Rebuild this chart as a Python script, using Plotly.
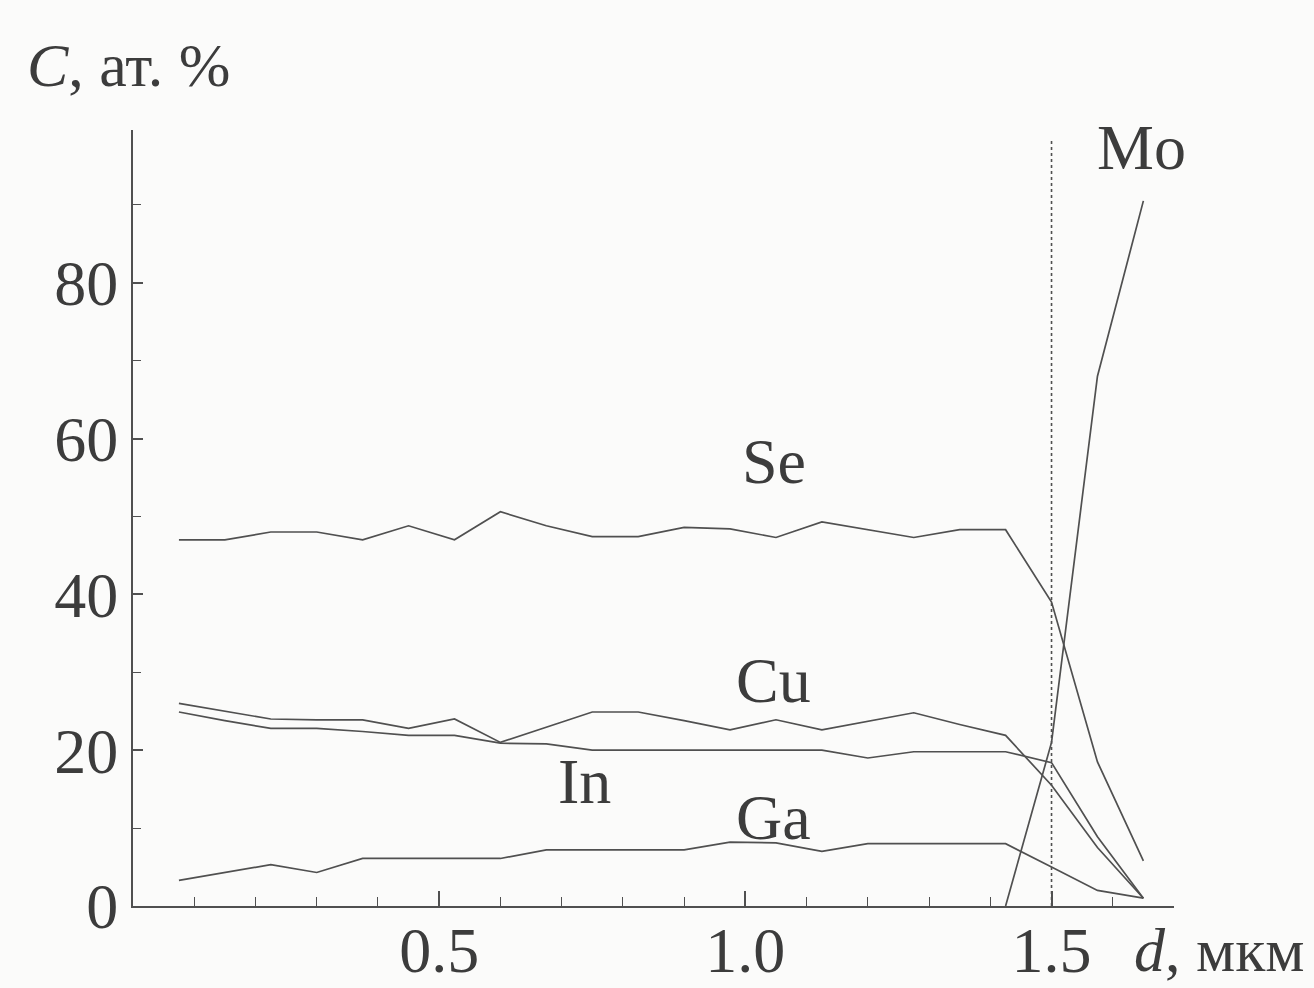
import plotly.graph_objects as go

# depth, um
depth = [0.075, 0.15, 0.225, 0.3, 0.375, 0.45, 0.525, 0.6, 0.675, 0.75, 0.825,
         0.9, 0.975, 1.05, 1.125, 1.2, 1.275, 1.35, 1.425, 1.5, 1.575, 1.65]

se = [47.0, 47.0, 48.0, 48.0, 47.0, 48.8, 47.0, 50.6, 48.8, 47.4, 47.4,
      48.6, 48.4, 47.3, 49.3, 48.3, 47.3, 48.3, 48.3, 39.0, 18.5, 5.8]
cu = [26.0, 25.0, 24.0, 23.9, 23.9, 22.8, 24.0, 21.0, 23.0, 24.9, 24.9,
      23.8, 22.6, 23.9, 22.6, 23.7, 24.8, 23.3, 21.9, 15.5, 7.5, 1.0]
in_ = [24.9, 23.8, 22.8, 22.8, 22.4, 21.9, 21.9, 20.9, 20.8, 20.0, 20.0,
       20.0, 20.0, 20.0, 20.0, 19.0, 19.8, 19.8, 19.8, 18.4, 8.9, 1.0]
ga = [3.3, 4.3, 5.3, 4.3, 6.1, 6.1, 6.1, 6.1, 7.2, 7.2, 7.2,
      7.2, 8.2, 8.1, 7.0, 8.0, 8.0, 8.0, 8.0, 5.0, 2.0, 1.0]

mo_depth = [1.425, 1.5, 1.575, 1.65]
mo = [0.0, 21.0, 68.0, 90.5]

interface_depth = 1.5

x_tickvals = [0.5, 1.0, 1.5]
x_ticktext = ["0.5", "1.0", "1.5"]
y_tickvals = [0, 20, 40, 60, 80]
y_ticktext = ["0", "20", "40", "60", "80"]

series_labels = {
    "Se": (1.046, 57.0),
    "Cu": (1.046, 29.0),
    "In": (0.737, 16.0),
    "Ga": (1.046, 11.3),
    "Mo": (1.647, 97.3),
}

LINE = "#505050"
TEXT = "#3c3c3c"
FONT = "Liberation Serif"
FS = 64

fig = go.Figure()
for name, ys in [("Se", se), ("Cu", cu), ("In", in_), ("Ga", ga)]:
    fig.add_trace(go.Scatter(x=depth, y=ys, mode="lines", name=name,
                             line=dict(color=LINE, width=1.7)))
fig.add_trace(go.Scatter(x=mo_depth, y=mo, mode="lines", name="Mo",
                         line=dict(color=LINE, width=1.7)))

fig.add_shape(type="line", x0=interface_depth, x1=interface_depth, y0=0, y1=98.5,
              xref="x", yref="y", line=dict(color=LINE, width=1.6, dash="dot"))

for name, (lx, ly) in series_labels.items():
    fig.add_annotation(x=lx, y=ly, text=name, showarrow=False,
                       font=dict(family=FONT, size=FS, color=TEXT))

fig.add_annotation(xref="paper", yref="paper", x=-0.104, y=1.084,
                   xanchor="left", yanchor="middle", showarrow=False,
                   text="<i>C</i>, ат. %", font=dict(family=FONT, size=62, color=TEXT))
fig.add_annotation(xref="paper", yref="paper", x=0.960, y=-0.057,
                   xanchor="left", yanchor="middle", showarrow=False,
                   text="<i>d</i>, мкм", font=dict(family=FONT, size=62, color=TEXT))

fig.update_layout(
    width=1314, height=988,
    margin=dict(l=133, r=140, t=130, b=82, autoexpand=False),
    paper_bgcolor="#fbfbfa", plot_bgcolor="#fbfbfa",
    showlegend=False,
    font=dict(family=FONT, size=FS, color=TEXT),
)
fig.update_xaxes(
    range=[0, 1.70], showgrid=False, zeroline=False, automargin=False,
    showline=True, linecolor=LINE, linewidth=2,
    tickmode="array", tickvals=x_tickvals, ticktext=x_ticktext,
    ticks="inside", ticklen=15, tickwidth=1.6, tickcolor=LINE,
    ticklabelstandoff=-13,
    minor=dict(tickmode="linear", tick0=0, dtick=0.1, ticks="inside",
               ticklen=9, tickwidth=1.4, tickcolor=LINE),
    tickfont=dict(family=FONT, size=FS, color=TEXT),
)
fig.update_yaxes(
    range=[0, 99.6], showgrid=False, zeroline=False, automargin=False,
    showline=True, linecolor=LINE, linewidth=2,
    tickmode="array", tickvals=y_tickvals, ticktext=y_ticktext,
    ticks="inside", ticklen=10, tickwidth=1.6, tickcolor=LINE,
    minor=dict(tickmode="linear", tick0=0, dtick=10, ticks="inside",
               ticklen=8, tickwidth=1.4, tickcolor=LINE),
    tickfont=dict(family=FONT, size=FS, color=TEXT),
)

fig.write_html("out.html", config={"displayModeBar": False},
               post_script="document.body.style.margin='0';document.body.style.background='#fbfbfa';")
